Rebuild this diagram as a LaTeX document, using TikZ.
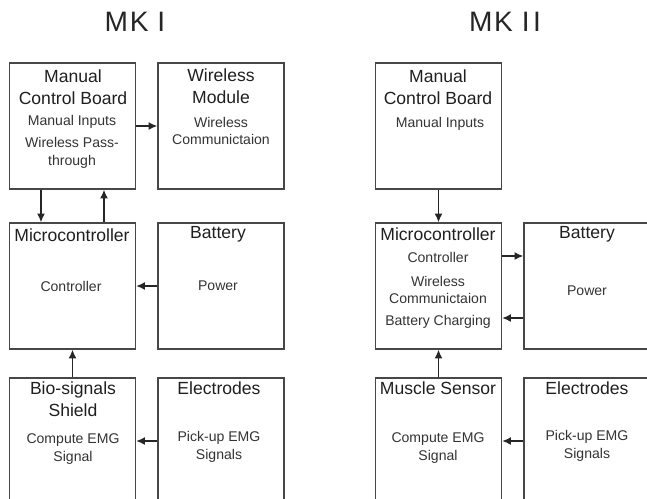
\documentclass[tikz,border=0pt]{standalone}
\usepackage{fontspec}
\setmainfont{Liberation Sans}
\usetikzlibrary{arrows.meta}
\begin{document}
\begin{tikzpicture}[x=0.2mm,y=-0.2mm,
	bloc/.style={draw=black!72,line width=0.8pt,minimum width=25.2mm,minimum height=25.2mm,inner sep=0pt},
	titre/.style={text=black!88,align=center,inner sep=0pt,font=\fontsize{10}{12.5}\selectfont},
	texte/.style={text=black!80,align=center,inner sep=0pt,font=\fontsize{8}{10.2}\selectfont},
	fleche/.style={draw=black!85,line width=0.7pt,-{Latex[length=5pt,width=4.5pt]}}]
%					Cadre de l'image :
					\clip (0,0) rectangle (647,498);
%					Titres :
					\node[font=\fontsize{16}{18}\selectfont,text=black!85] (titreA) at (135,22) {M\hspace{1pt}K\hspace{5pt}I};
					\node[font=\fontsize{16}{18}\selectfont,text=black!85] (titreB) at (505,22) {M\hspace{1pt}K\hspace{5pt}I\hspace{2pt}I};
%					Blocs MK I :
					\node[bloc] (mcbA) at (72.5,126) {};
					\node[bloc] (wmA) at (221,126) {};
					\node[bloc] (mcuA) at (72.5,286) {};
					\node[bloc] (batA) at (221,286) {};
					\node[bloc] (bioA) at (72.5,441) {};
					\node[bloc] (elecA) at (221,441) {};
%					Textes MK I :
					\node[titre] (mcbAt) at (73,87) {Manual\\Control Board};
					\node[texte] (mcbAa) at (72,122) {Manual Inputs};
					\node[texte] (mcbAb) at (72,153) {Wireless Pass-\\through};
					\node[titre] (wmAt) at (221,86) {Wireless\\Module};
					\node[texte] (wmAa) at (221,131) {Wireless\\Communictaion};
					\node[titre] (mcuAt) at (72,235) {Microcontroller};
					\node[texte] (mcuAa) at (71,286) {Controller};
					\node[titre] (batAt) at (218,234) {Battery};
					\node[texte] (batAa) at (218,286) {Power};
					\node[titre] (bioAt) at (73,399) {Bio-signals\\Shield};
					\node[texte] (bioAa) at (73,449) {Compute EMG\\Signal};
					\node[titre] (elecAt) at (219,388) {Electrodes};
					\node[texte] (elecAa) at (219,447) {Pick-up EMG\\Signals};
%					Liaisons MK I :
					\draw[fleche] (mcbA.south -| 41,0) -- (mcuA.north -| 41,0);
					\draw[fleche] (mcuA.north -| 104,0) -- (mcbA.south -| 104,0);
					\draw[fleche] (mcbA.east) -- (wmA.west);
					\draw[fleche] (batA.west) -- (mcuA.east);
					\draw[fleche] (bioA.north) -- (mcuA.south);
					\draw[fleche] (elecA.west) -- (bioA.east);
%					Blocs MK II :
					\node[bloc] (mcbB) at (438.5,126) {};
					\node[bloc] (mcuB) at (438.5,286) {};
					\node[bloc] (batB) at (587,286) {};
					\node[bloc] (musB) at (438.5,441) {};
					\node[bloc] (elecB) at (587,441) {};
%					Textes MK II :
					\node[titre] (mcbBt) at (438,87) {Manual\\Control Board};
					\node[texte] (mcbBa) at (440,124) {Manual Inputs};
					\node[titre] (mcuBt) at (438,234) {Microcontroller};
					\node[texte] (mcuBa) at (438,257) {Controller};
					\node[texte] (mcuBb) at (438,290) {Wireless\\Communictaion};
					\node[texte] (mcuBc) at (438,322) {Battery Charging};
					\node[titre] (batBt) at (587,234) {Battery};
					\node[texte] (batBa) at (587,291) {Power};
					\node[titre] (musBt) at (438,388) {Muscle Sensor};
					\node[texte] (musBa) at (438,448) {Compute EMG\\Signal};
					\node[titre] (elecBt) at (587,388) {Electrodes};
					\node[texte] (elecBa) at (587,446) {Pick-up EMG\\Signals};
%					Liaisons MK II :
					\draw[fleche] (mcbB.south) -- (mcuB.north);
					\draw[fleche] (mcuB.east |- 0,256) -- (batB.west |- 0,256);
					\draw[fleche] (batB.west |- 0,318) -- (mcuB.east |- 0,318);
					\draw[fleche] (musB.north) -- (mcuB.south);
					\draw[fleche] (elecB.west) -- (musB.east);
				\end{tikzpicture}
\end{document}
